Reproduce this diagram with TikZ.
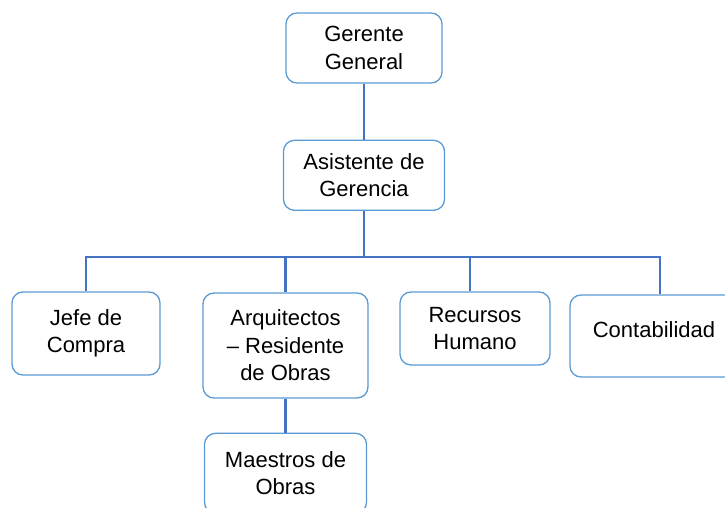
\documentclass[tikz,border=0pt]{standalone}
\usepackage{fontspec}
\setmainfont{Liberation Sans}
\usetikzlibrary{positioning}
\definecolor{boxblue}{RGB}{91,155,213}
\definecolor{lineblue}{RGB}{68,114,196}

\begin{document}
\begin{tikzpicture}[x=1pt,y=1pt,
    box/.style={draw=boxblue, line width=1.3pt, rounded corners=11pt, align=center,
      fill=white, inner sep=2pt, font=\fontsize{22}{27.5}\selectfont},
    link/.style={draw=lineblue, line width=2.3pt}]
    \useasboundingbox (0,0) rectangle (725,-508);

    \node (ger) [box, minimum width=156pt, minimum height=70pt] at (364,-48) {Gerente\\General};
    \node (asis) [box, minimum width=161pt, minimum height=70pt, below=56pt of ger] {Asistente de\\Gerencia};

    \node (jefe) [box, minimum width=148pt, minimum height=83pt] at (86,-333.5) {Jefe de\\Compra};
    \node (arq) [box, minimum width=165pt, minimum height=105pt] at (285.5,-345.5) {Arquitectos\\– Residente\\de Obras};
    \node (maes) [box, minimum width=162pt, minimum height=80pt, below=34pt of arq] {Maestros de\\Obras};
    \node (rec) [box, minimum width=150pt, minimum height=73pt] at (475,-328.5) {Recursos\\Humano};
    \node (cont) [box, minimum width=168pt, minimum height=82pt, text depth=12pt] at (654,-336) {Contabilidad};

    \coordinate (bus) at ([yshift=-46pt]asis.south);

    \draw[link] (ger) -- (asis);
    \draw[link] (asis) -- (bus);
    \draw[link] (bus) -| (jefe);
    \draw[link] (bus) -| (arq);
    \draw[link] (bus) -| ([xshift=-5pt]rec.north);
    \draw[link] (bus) -| ([xshift=6pt]cont.north);
    \draw[link] (arq) -- (maes);
\end{tikzpicture}
\end{document}
